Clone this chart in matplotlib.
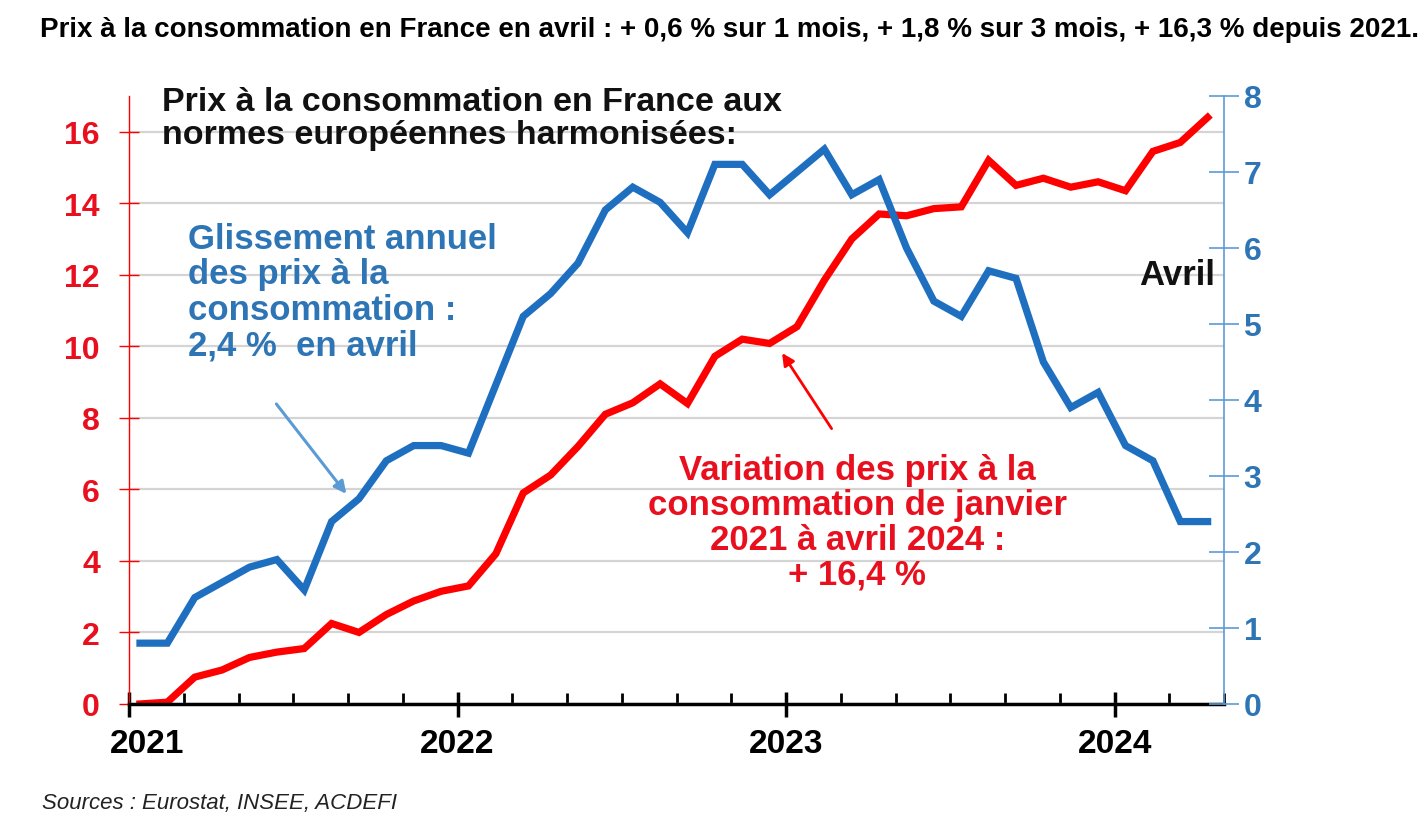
import numpy as np
import matplotlib
matplotlib.use('Agg')
import matplotlib.pyplot as plt
from matplotlib.ticker import FixedLocator
from matplotlib.transforms import ScaledTranslation

plt.rcParams['font.family'] = ['Liberation Sans', 'DejaVu Sans']

# Data (monthly, Jan 2021 -> Apr 2024)
year_labels = ['2021', '2022', '2023', '2024']
# cumulative change of consumer prices since Jan 2021 (%), left axis
variation = [0.0, 0.05, 0.75, 0.95, 1.3, 1.45, 1.55, 2.25, 2.0, 2.5,
             2.88, 3.15, 3.3, 4.2, 5.9, 6.4, 7.2, 8.1, 8.42, 8.95,
             8.4, 9.72, 10.2, 10.08, 10.55, 11.85, 13.0, 13.7, 13.65, 13.85,
             13.9, 15.2, 14.5, 14.7, 14.45, 14.6, 14.35, 15.45, 15.7, 16.4]
# HICP year-on-year change (%), right axis
glissement = [0.8, 0.8, 1.4, 1.6, 1.8, 1.9, 1.5, 2.4, 2.7, 3.2,
              3.4, 3.4, 3.3, 4.2, 5.1, 5.4, 5.8, 6.5, 6.8, 6.6,
              6.2, 7.1, 7.1, 6.7, 7.0, 7.3, 6.7, 6.9, 6.0, 5.3,
              5.1, 5.7, 5.6, 4.5, 3.9, 4.1, 3.4, 3.2, 2.4, 2.4]
left_ticks = [0, 2, 4, 6, 8, 10, 12, 14, 16]
right_ticks = [0, 1, 2, 3, 4, 5, 6, 7, 8]

RED = '#FF0000'
RED_TXT = '#E8101E'
BLUE = '#1F6FC0'
BLUE_TXT = '#2E75B6'
BLUE_AX = '#5B9BD5'

x = np.arange(len(variation))

fig = plt.figure(figsize=(14.24, 8.28), dpi=100)
ax = fig.add_axes([0.0906, 0.1486, 0.7690, 0.7343])
ax2 = ax.twinx()

# lines
ax.plot(x, variation, color=RED, linewidth=5.2, solid_joinstyle='miter', zorder=3)
ax2.plot(x, glissement, color=BLUE, linewidth=5.2, solid_joinstyle='miter', zorder=3)

# x axis: year boundaries + every 2 months
ax.set_xlim(-0.4, 39.6)
major = [-0.4 + 12 * k for k in range(4)]
ax.xaxis.set_major_locator(FixedLocator(major))
ax.xaxis.set_minor_locator(FixedLocator([-0.4 + 2 * k for k in range(21) if k % 6 != 0]))
ax.set_xticklabels(year_labels, fontsize=24, fontweight='bold')
ax.tick_params(axis='x', which='major', direction='inout', length=18, width=2.5,
               color='black', pad=8)
ax.tick_params(axis='x', which='minor', direction='in', length=8, width=2, color='black')
# first year label sits a little to the right of its tick
first = ax.get_xticklabels()[0]
first.set_transform(first.get_transform() + ScaledTranslation(0.18, 0, fig.dpi_scale_trans))

# left axis
ax.set_ylim(0, 17)
ax.set_yticks(left_ticks)
ax.set_yticklabels([str(v) for v in left_ticks], fontsize=23, fontweight='bold', color=RED_TXT)
ax.tick_params(axis='y', direction='inout', length=14, width=1, color=RED, pad=14)
ax.grid(axis='y', color='#D4D4D4', linewidth=1.6)
ax.set_axisbelow(True)

# right axis
ax2.set_ylim(0, 8)
ax2.set_yticks(right_ticks)
ax2.set_yticklabels([str(v) for v in right_ticks], fontsize=23, fontweight='bold', color=BLUE_TXT)
ax2.tick_params(axis='y', direction='inout', length=22, width=1.2, color=BLUE_AX, pad=3)

for a in (ax, ax2):
    a.spines['top'].set_visible(False)
ax.spines['right'].set_visible(False)
ax2.spines['left'].set_visible(False)
ax2.spines['bottom'].set_visible(False)
ax.spines['left'].set_color(RED)
ax.spines['left'].set_linewidth(1)
ax.spines['bottom'].set_color('black')
ax.spines['bottom'].set_linewidth(2.5)
ax.spines['bottom'].set_zorder(5)
ax2.spines['right'].set_color(BLUE_AX)
ax2.spines['right'].set_linewidth(1.2)

# annotations
ax.text(0.030, 1.016, 'Prix à la consommation en France aux\nnormes européennes harmonisées:',
        transform=ax.transAxes, ha='left', va='top', fontsize=24.5, fontweight='bold',
        color='#111111', linespacing=1.08)

ax.text(0.054, 0.793, 'Glissement annuel\ndes prix à la\nconsommation :\n2,4 %  en avril',
        transform=ax.transAxes, ha='left', va='top', fontsize=25, fontweight='bold',
        color=BLUE_TXT, linespacing=1.10)

ax.text(0.665, 0.412, 'Variation des prix à la\nconsommation de janvier\n2021 à avril 2024 :\n+ 16,4 %',
        transform=ax.transAxes, ha='center', va='top', fontsize=25, fontweight='bold',
        color=RED_TXT, linespacing=1.07, multialignment='center')

ax.text(0.992, 0.706, 'Avril', transform=ax.transAxes, ha='right', va='center',
        fontsize=25, fontweight='bold', color='#111111')

ax.annotate('', xy=(0.200, 0.342), xytext=(0.133, 0.497), xycoords='axes fraction',
            arrowprops=dict(arrowstyle='-|>', color=BLUE_AX, lw=2.2, mutation_scale=18))
ax.annotate('', xy=(0.595, 0.581), xytext=(0.643, 0.449), xycoords='axes fraction',
            arrowprops=dict(arrowstyle='-|>', color=RED, lw=2.0, mutation_scale=18))

fig.text(0.028, 0.964, 'Prix à la consommation en France en avril : + 0,6 % sur 1 mois, '
         '+ 1,8 % sur 3 mois, + 16,3 % depuis 2021.',
         ha='left', va='center', fontsize=20.0, fontweight='bold', color='black',
         family=['Liberation Sans Narrow', 'Liberation Sans', 'DejaVu Sans'])
fig.text(0.0295, 0.030, 'Sources : Eurostat, INSEE, ACDEFI', ha='left', va='center',
         fontsize=16, fontstyle='italic', color='#222222')

fig.savefig('out.png', dpi=100)
